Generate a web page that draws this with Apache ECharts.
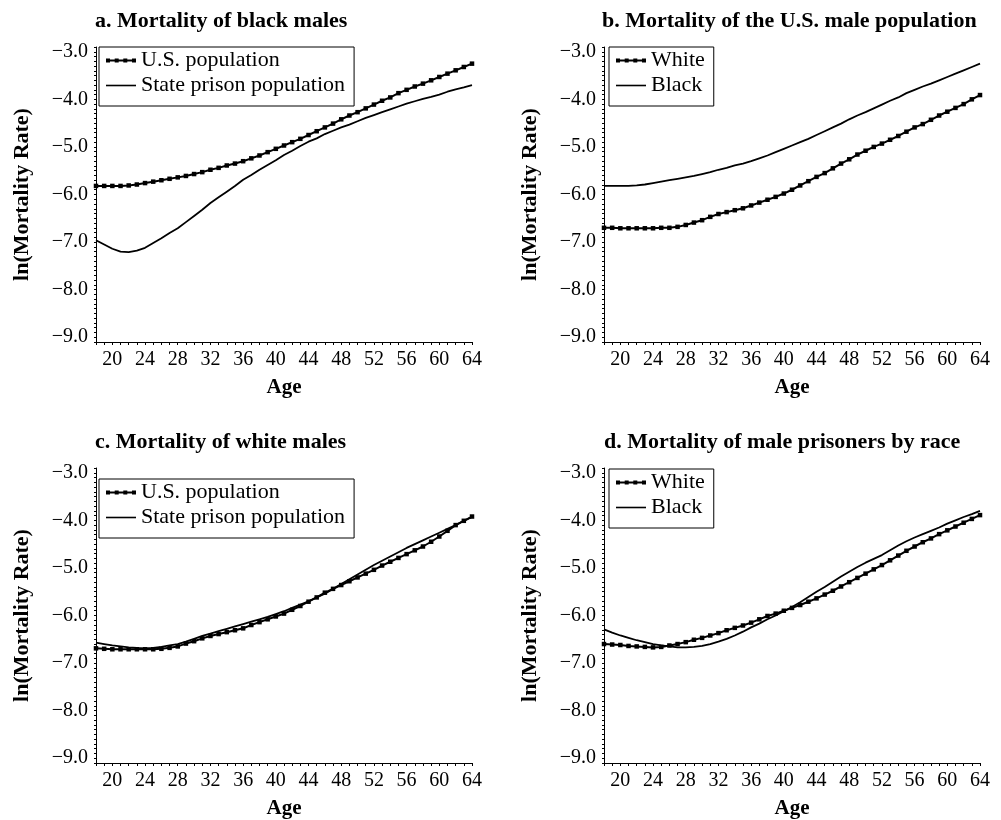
<!DOCTYPE html>
<html><head><meta charset="utf-8">
<script src="https://cdn.jsdelivr.net/npm/echarts@6/dist/echarts.min.js"></script>
<style>html,body{margin:0;padding:0;background:#fff}#c{width:1001px;height:820px}</style>
</head><body><div id="c"></div>
<script>
// Ages (x categories)
const ages = [18,19,20,21,22,23,24,25,26,27,28,29,30,31,32,33,34,35,36,37,38,39,40,41,
  42,43,44,45,46,47,48,49,50,51,52,53,54,55,56,57,58,59,60,61,62,63,64];

// Panel a/b: U.S. black males
const usBlack = [-5.82,-5.82,-5.82,-5.82,-5.81,-5.79,-5.76,-5.73,-5.70,-5.67,-5.64,-5.61,-5.57,-5.53,
  -5.48,-5.44,-5.39,-5.35,-5.30,-5.24,-5.18,-5.11,-5.04,-4.97,-4.90,-4.83,-4.75,-4.67,-4.59,-4.51,
  -4.42,-4.34,-4.27,-4.19,-4.11,-4.03,-3.96,-3.87,-3.80,-3.73,-3.67,-3.60,-3.53,-3.46,-3.39,-3.32,-3.25];
// Panel a: state prison black males
const prisonBlack = [-6.96,-7.05,-7.14,-7.20,-7.21,-7.18,-7.12,-7.02,-6.92,-6.81,-6.71,-6.58,-6.45,-6.32,
  -6.18,-6.06,-5.94,-5.82,-5.69,-5.59,-5.48,-5.38,-5.28,-5.17,-5.08,-4.98,-4.89,-4.82,-4.73,-4.66,
  -4.59,-4.53,-4.46,-4.39,-4.33,-4.27,-4.21,-4.15,-4.09,-4.04,-3.99,-3.95,-3.90,-3.84,-3.79,-3.75,-3.70];
// Panel b: U.S. white males
const usWhiteB = [-6.70,-6.70,-6.71,-6.71,-6.71,-6.71,-6.71,-6.70,-6.70,-6.68,-6.64,-6.59,-6.54,-6.47,
  -6.41,-6.37,-6.33,-6.29,-6.23,-6.17,-6.11,-6.05,-5.98,-5.90,-5.81,-5.72,-5.63,-5.55,-5.45,-5.35,
  -5.26,-5.16,-5.08,-5.00,-4.93,-4.85,-4.77,-4.68,-4.59,-4.52,-4.43,-4.34,-4.26,-4.18,-4.10,-4.00,-3.91];
// Panel c: U.S. white males and state prison white males
const usWhiteC = [-6.69,-6.70,-6.71,-6.71,-6.71,-6.71,-6.71,-6.71,-6.70,-6.68,-6.65,-6.59,-6.54,-6.48,
  -6.43,-6.39,-6.35,-6.31,-6.27,-6.20,-6.14,-6.08,-6.02,-5.96,-5.88,-5.80,-5.71,-5.62,-5.52,-5.44,
  -5.36,-5.28,-5.20,-5.12,-5.04,-4.95,-4.87,-4.79,-4.71,-4.63,-4.55,-4.45,-4.34,-4.22,-4.10,-4.01,-3.92];
const prisonWhiteC = [-6.57,-6.60,-6.63,-6.65,-6.67,-6.68,-6.69,-6.68,-6.66,-6.63,-6.60,-6.55,-6.49,-6.43,
  -6.38,-6.33,-6.28,-6.23,-6.18,-6.13,-6.08,-6.03,-5.97,-5.91,-5.84,-5.77,-5.70,-5.62,-5.54,-5.44,
  -5.34,-5.24,-5.14,-5.04,-4.94,-4.85,-4.76,-4.67,-4.58,-4.50,-4.42,-4.34,-4.26,-4.18,-4.10,-4.01,-3.93];
// Panel d: male prisoners by race
const prisonWhiteD = [-6.60,-6.61,-6.62,-6.64,-6.65,-6.66,-6.67,-6.66,-6.63,-6.60,-6.56,-6.51,-6.47,-6.42,
  -6.37,-6.31,-6.26,-6.21,-6.15,-6.08,-6.01,-5.96,-5.90,-5.84,-5.78,-5.71,-5.64,-5.56,-5.48,-5.39,
  -5.30,-5.21,-5.12,-5.03,-4.94,-4.84,-4.74,-4.64,-4.55,-4.46,-4.38,-4.29,-4.21,-4.13,-4.05,-3.97,-3.89];
const prisonBlackD = [-6.29,-6.36,-6.42,-6.47,-6.52,-6.56,-6.60,-6.63,-6.65,-6.67,-6.67,-6.66,-6.64,-6.60,
  -6.55,-6.49,-6.42,-6.34,-6.25,-6.17,-6.08,-6.00,-5.91,-5.82,-5.72,-5.61,-5.50,-5.40,-5.29,-5.18,
  -5.08,-4.98,-4.89,-4.81,-4.73,-4.63,-4.53,-4.44,-4.36,-4.29,-4.22,-4.15,-4.07,-4.00,-3.93,-3.87,-3.80];

const titles = ['a. Mortality of black males', 'b. Mortality of the U.S. male population',
  'c. Mortality of white males', 'd. Mortality of male prisoners by race'];
const xName = 'Age';
const yName = 'ln(Mortality Rate)';

const FONT = "'Liberation Serif', 'Times New Roman', serif";
const INK = '#000';
const DOT_ICON = 'path://M0,1H30V3H0Z M0,0H4V4H0Z M8.7,0H12.7V4H8.7Z M17.3,0H21.3V4H17.3Z M26,0H30V4H26Z';
const LINE_ICON = 'path://M0,0H30V1.6H0Z';

const grids = [
  {left: 96, top: 47, width: 376, height: 295},
  {left: 604, top: 47, width: 376, height: 295},
  {left: 96, top: 468, width: 376, height: 295},
  {left: 604, top: 468, width: 376, height: 295}
];

function pairs(vals) { return ages.map((a, i) => [a, vals[i]]); }

function xAxisFor(i) {
  return {
    gridIndex: i, type: 'value', min: 18, max: 64, interval: 1,
    name: xName, nameLocation: 'middle', nameGap: 35,
    nameTextStyle: {fontFamily: FONT, fontWeight: 'bold', fontSize: 21, color: INK},
    axisLine: {onZero: false, lineStyle: {color: INK, width: 1}},
    axisTick: {show: true, length: 3, lineStyle: {color: INK, width: 1}},
    axisLabel: {fontFamily: FONT, fontSize: 20, color: INK, margin: 8,
      formatter: v => (Math.round(v) % 4 === 0 ? String(Math.round(v)) : '')},
    splitLine: {show: false}
  };
}
function yAxisFor(i) {
  return {
    gridIndex: i, type: 'value', min: -9.1, max: -2.9, interval: 0.1,
    name: yName, nameLocation: 'middle', nameGap: 63,
    nameTextStyle: {fontFamily: FONT, fontWeight: 'bold', fontSize: 22, color: INK},
    axisLine: {show: true, lineStyle: {color: INK, width: 1}},
    axisTick: {show: true, length: 2, lineStyle: {color: INK, width: 1}},
    axisLabel: {fontFamily: FONT, fontSize: 20, color: INK, margin: 8,
      formatter: v => (Math.abs(v - Math.round(v)) < 1e-6 ? '\u2212' + Math.abs(v).toFixed(1) : '')},
    splitLine: {show: false}
  };
}
function dotted(name, vals, i) {
  return {type: 'line', name, xAxisIndex: i, yAxisIndex: i, data: pairs(vals),
    symbol: 'rect', symbolSize: 4.5, showSymbol: true, silent: true, z: 3,
    lineStyle: {color: INK, width: 2}, itemStyle: {color: INK}};
}
function solid(name, vals, i) {
  return {type: 'line', name, xAxisIndex: i, yAxisIndex: i, data: pairs(vals),
    symbol: 'none', silent: true, z: 2,
    lineStyle: {color: INK, width: 1.8}, itemStyle: {color: INK}};
}
function legendAt(left, top, names) {
  return {
    left, top, orient: 'vertical', selectedMode: false, symbolKeepAspect: true,
    itemWidth: 30, itemHeight: 4, itemGap: 0, padding: [1, 9, 8, 7],
    borderColor: INK, borderWidth: 1, backgroundColor: '#fff',
    textStyle: {fontFamily: FONT, fontSize: 22, color: INK, lineHeight: 25},
    data: [{name: names[0], icon: DOT_ICON}, {name: names[1], icon: LINE_ICON}]
  };
}

const chart = echarts.init(document.getElementById('c'), null, {renderer: 'canvas'});
chart.setOption({
  animation: false,
  backgroundColor: '#fff',
  title: [
    {text: titles[0], left: 95, top: 10},
    {text: titles[1], left: 602, top: 10},
    {text: titles[2], left: 95, top: 431},
    {text: titles[3], left: 604, top: 431}
  ].map(t => Object.assign(t, {padding: 0,
    textStyle: {fontFamily: FONT, fontWeight: 'bold', fontSize: 22, color: INK}})),
  grid: grids.map(g => Object.assign({outerBoundsMode: 'none', containLabel: false}, g)),
  xAxis: [0, 1, 2, 3].map(xAxisFor),
  yAxis: [0, 1, 2, 3].map(yAxisFor),
  legend: [
    legendAt(99, 47, ['U.S. population', 'State prison population']),
    legendAt(609, 47, ['White', 'Black']),
    legendAt(99, 479, ['U.S. population', 'State prison population']),
    legendAt(609, 469, ['White', 'Black'])
  ],
  series: [
    dotted('U.S. population', usBlack, 0),
    solid('State prison population', prisonBlack, 0),
    dotted('White', usWhiteB, 1),
    solid('Black', usBlack, 1),
    dotted('U.S. population', usWhiteC, 2),
    solid('State prison population', prisonWhiteC, 2),
    dotted('White', prisonWhiteD, 3),
    solid('Black', prisonBlackD, 3)
  ]
});
</script></body></html>
